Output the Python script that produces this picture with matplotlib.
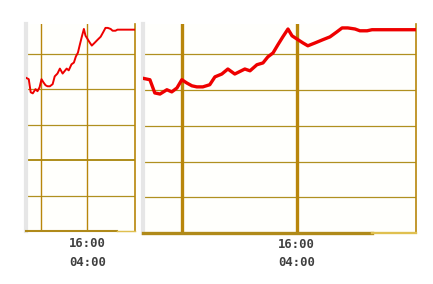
import matplotlib
matplotlib.use("Agg")
import matplotlib.pyplot as plt

# time in hours, value in grid units
hours = [10.66, 10.90, 11.07, 11.25, 11.49, 11.66, 11.84, 12.01, 12.18, 12.36,
         12.53, 12.74, 12.98, 13.16, 13.40, 13.61, 13.85, 14.20, 14.38, 14.62,
         14.83, 15.00, 15.18, 15.35, 15.52, 15.70, 15.84, 16.01, 16.22, 16.39,
         16.64, 16.91, 17.16, 17.40, 17.58, 17.78, 18.03, 18.20, 18.45, 18.62,
         20.15]
values = [4.33, 4.29, 3.92, 3.89, 4.01, 3.95, 4.06, 4.29, 4.20, 4.12,
          4.09, 4.09, 4.15, 4.37, 4.45, 4.59, 4.45, 4.59, 4.54, 4.71,
          4.76, 4.93, 5.04, 5.27, 5.49, 5.71, 5.52, 5.43, 5.32, 5.24,
          5.32, 5.41, 5.49, 5.63, 5.74, 5.74, 5.71, 5.66, 5.66, 5.69,
          5.69]
hgrid = [1, 2, 3, 4, 5]
vgrid = [12, 16]
tick_labels = ["16:00", "04:00"]

gold = "#b8860b"
bg = "#fffffc"

fig = plt.figure(figsize=(4.33, 2.84), dpi=100)
fig.patch.set_facecolor("white")

def panel(rect, lw_line, lw_v, lw_h, lw_bottom, label_y, gap):
    ax = fig.add_axes(rect)
    ax.set_facecolor(bg)
    ax.set_xlim(10.66, 20.15)
    ax.set_ylim(0, 5.85)
    for y in hgrid:
        ax.axhline(y, color="#b09020", lw=lw_h * (1.6 if y == 2 and lw_v < 2 else 1), zorder=1)
    for x in vgrid:
        ax.axvline(x, color=gold, lw=lw_v, zorder=1)
    ax.plot(hours, values, color="#ee0000", lw=lw_line, zorder=3)
    ax.set_xticks([])
    ax.set_yticks([])
    ax.spines["top"].set_visible(False)
    ax.spines["left"].set_color("#e6e6e6")
    ax.spines["left"].set_linewidth(3)
    ax.spines["right"].set_color(gold)
    ax.spines["right"].set_linewidth(1.2)
    ax.spines["bottom"].set_visible(False)
    # bottom edge: dark part then a paler tail
    ax.plot([10.66, 18.62], [0, 0], color="#b08a1a", lw=lw_bottom, clip_on=False, zorder=4)
    ax.plot([18.62, 20.15], [0, 0], color="#e0c050", lw=lw_bottom * 0.7, clip_on=False, zorder=4)
    ax.text(16, label_y, tick_labels[0], transform=ax.get_xaxis_transform(),
            ha="center", va="center", family="DejaVu Sans Mono", weight="bold",
            fontsize=8.8, color="#404040")
    ax.text(16, label_y - gap, tick_labels[1], transform=ax.get_xaxis_transform(),
            ha="center", va="center", family="DejaVu Sans Mono", weight="bold",
            fontsize=8.8, color="#404040")
    return ax

panel([26 / 433, 1 - 231 / 284, 109 / 433, 207 / 284], 1.4, 1.0, 0.9, 1.5, -0.058, 0.092)
panel([143 / 433, 1 - 233 / 284, 273 / 433, 209 / 284], 2.4, 2.4, 0.9, 2.4, -0.057, 0.086)

fig.savefig("out.png", dpi=100)
